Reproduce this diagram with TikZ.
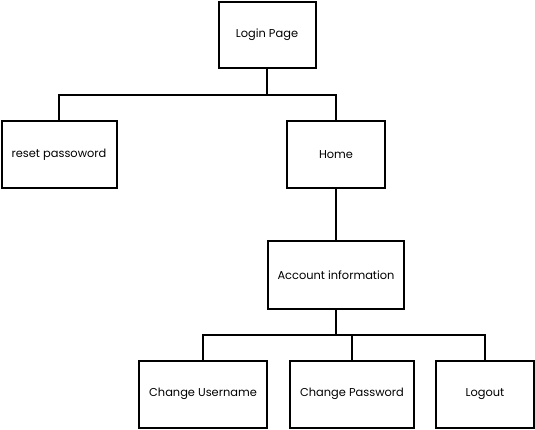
\documentclass[tikz,border=0pt]{standalone}
\usepackage{fontspec}
\setmainfont{Poppins}

\newcommand*{\boxh}{67}
\newcommand*{\rowA}{35}
\newcommand*{\rowB}{155}
\newcommand*{\rowC}{275}
\newcommand*{\rowD}{394}

\tikzset{
	page/.style={draw, line width=2pt, fill=white, minimum height=\boxh pt, inner sep=0pt, font=\fontsize{11.4}{13}\selectfont},
	link/.style={line width=1.5pt}
}

\begin{document}
\begin{tikzpicture}[x=1pt,y=-1pt]

	\useasboundingbox (0,0) rectangle (535,430);

	% boxes
	\node[page, minimum width=97pt, minimum height=66pt] (login) at (267,\rowA) {Login Page};
	\node[page, minimum width=115pt] (reset) at (59,\rowB) {reset passoword};
	\node[page, minimum width=98pt] (home) at (336,\rowB) {Home};
	\node[page, minimum width=136pt] (account) at (336,\rowC) {Account information};
	\node[page, minimum width=128pt] (username) at (203,\rowD) {Change Username};
	\node[page, minimum width=124pt] (password) at (352,\rowD) {Change Password};
	\node[page, minimum width=98pt] (logout) at (485,\rowD) {Logout};

	% branch points
	\coordinate (split1) at (267,95);
	\coordinate (split2) at (336,335);

	% connectors
	\draw[link] (login.south) -- (split1);
	\draw[link] (reset.north) |- (split1) -| (home.north);
	\draw[link] (home.south) -- (account.north);
	\draw[link] (account.south) -- (split2);
	\draw[link] (username.north) |- (split2) -| (logout.north);
	\draw[link] (password.north) -- (password.north |- split2);

\end{tikzpicture}
\end{document}
